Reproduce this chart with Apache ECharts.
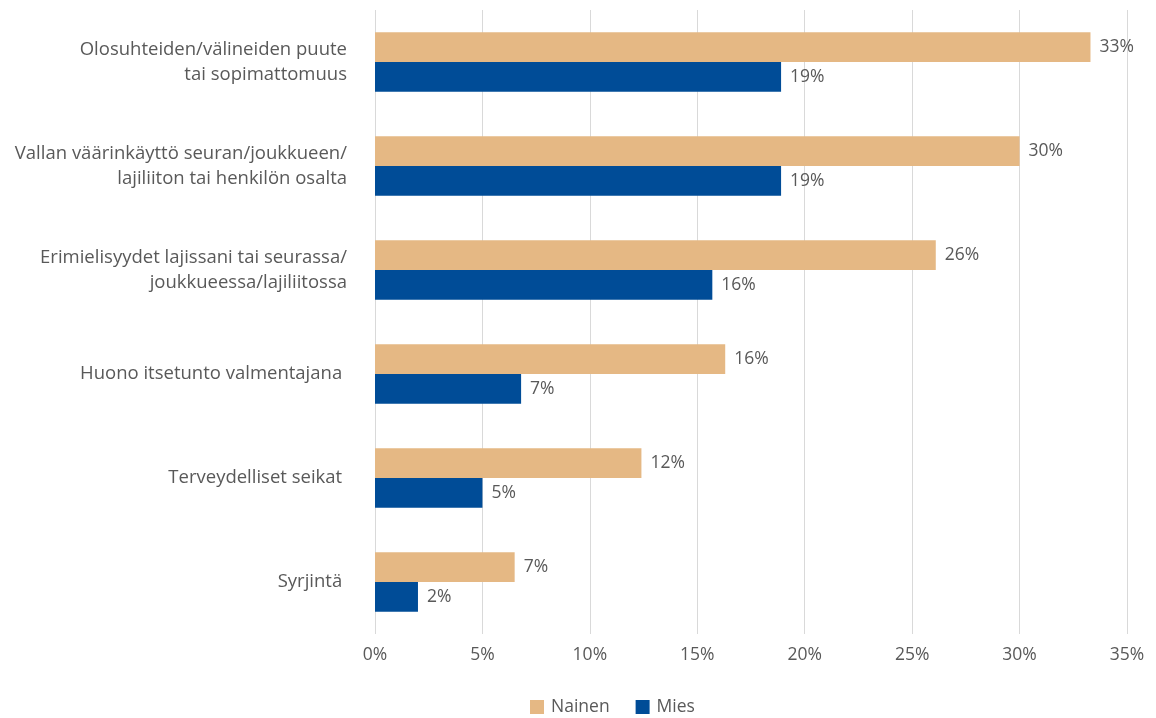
<!DOCTYPE html>
<html>
<head>
<meta charset="utf-8">
<script src="https://cdn.jsdelivr.net/npm/echarts@6/dist/echarts.min.js"></script>
<style>html,body{margin:0;padding:0;background:#fff}#c{width:1156px;height:718px}</style>
</head>
<body>
<div id="c"></div>
<script>
const categories = [
  "Olosuhteiden/välineiden puute\ntai sopimattomuus",
  "Vallan väärinkäyttö seuran/joukkueen/\nlajiliiton tai henkilön osalta",
  "Erimielisyydet lajissani tai seurassa/\njoukkueessa/lajiliitossa",
  "Huono itsetunto valmentajana ",
  "Terveydelliset seikat ",
  "Syrjintä "
];
const seriesNames = ["Nainen", "Mies"];
const nainen = [33.3, 30.0, 26.1, 16.3, 12.4, 6.5];
const mies = [18.9, 18.9, 15.7, 6.8, 5.0, 2.0];
const xTicks = [0, 5, 10, 15, 20, 25, 30, 35];

const FONT = "'Open Sans', 'Noto Sans', sans-serif";
const TXT = "#595959";
const chart = echarts.init(document.getElementById('c'), null, {renderer: 'canvas'});
const lbl = {
  show: true, position: 'right', distance: 9,
  color: TXT, fontSize: 17.5, fontFamily: FONT,
  formatter: p => Math.round(p.value) + '%'
};
chart.setOption({
  animation: false,
  textStyle: {fontFamily: FONT},
  grid: {left: 375, right: 29, top: 10, bottom: 84, containLabel: false},
  legend: {
    top: 693, left: 525, itemWidth: 14, itemHeight: 14, itemGap: 26,
    icon: 'rect',
    textStyle: {color: TXT, fontSize: 17.5, fontFamily: FONT, padding: [0, 0, 0, 2]},
    data: seriesNames
  },
  xAxis: {
    type: 'value', min: 0, max: 35, interval: 5,
    axisLine: {show: false}, axisTick: {show: false},
    splitLine: {show: true, lineStyle: {color: '#D9D9D9', width: 1}},
    axisLabel: {color: TXT, fontSize: 17.5, fontFamily: FONT, margin: 12,
      formatter: v => xTicks.includes(v) ? v + '%' : ''}
  },
  yAxis: {
    type: 'category', data: categories, inverse: true,
    axisLine: {show: false}, axisTick: {show: false},
    axisLabel: {color: TXT, fontSize: 18.5, fontFamily: FONT, margin: 28, lineHeight: 25, align: 'right'}
  },
  series: [
    {name: seriesNames[0], type: 'bar', data: nainen, barGap: '0%', barCategoryGap: '43%',
      itemStyle: {color: '#E5B884'}, label: lbl},
    {name: seriesNames[1], type: 'bar', data: mies, barGap: '0%', barCategoryGap: '43%',
      itemStyle: {color: '#004C97'}, label: lbl}
  ]
});
</script>
</body>
</html>
